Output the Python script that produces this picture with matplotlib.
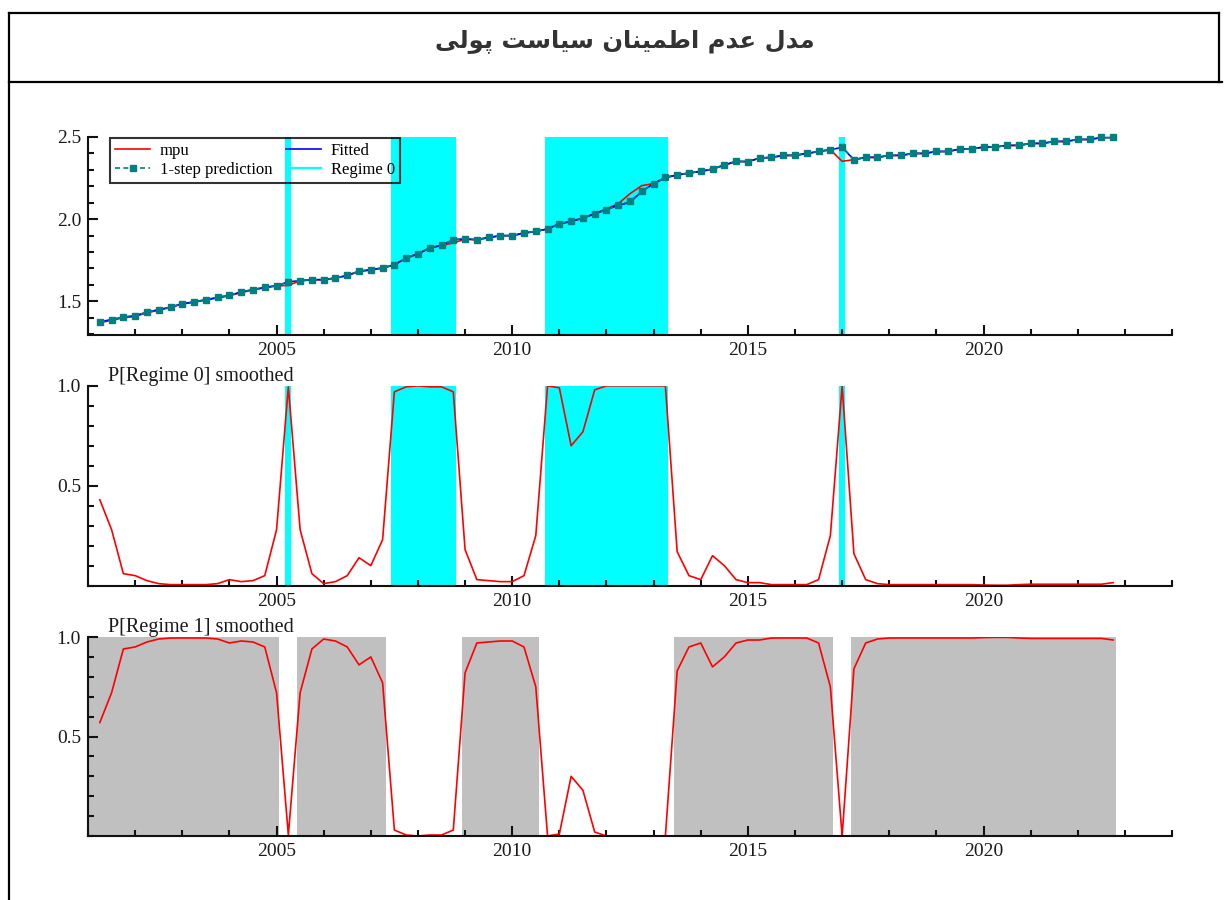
import numpy as np
import pandas as pd
import matplotlib
matplotlib.use('Agg')
import matplotlib.pyplot as plt
from matplotlib.ticker import MultipleLocator, FixedLocator, FormatStrFormatter
from matplotlib.lines import Line2D

# ---------------------------------------------------------------------------
# Data (quarterly, 2001Q2 .. 2022Q4)
# ---------------------------------------------------------------------------
title_fa = 'مدل عدم اطمینان سیاست پولی'

quarters = pd.period_range('2001Q2', '2022Q4', freq='Q')
years = np.asarray(quarters.year + (quarters.quarter - 1) / 4.0, dtype=float)

mpu = [1.370, 1.384, 1.400, 1.408, 1.430, 1.446, 1.462, 1.484, 1.494, 1.508,
       1.520, 1.534, 1.553, 1.569, 1.583, 1.593, 1.597, 1.624, 1.630, 1.631,
       1.640, 1.656, 1.681, 1.690, 1.701, 1.722, 1.762, 1.788, 1.823, 1.840,
       1.855, 1.878, 1.874, 1.887, 1.898, 1.899, 1.914, 1.925, 1.940, 1.970,
       1.985, 2.006, 2.034, 2.062, 2.094, 2.155, 2.204, 2.216, 2.252, 2.268,
       2.280, 2.290, 2.304, 2.328, 2.350, 2.350, 2.371, 2.375, 2.387, 2.388,
       2.399, 2.411, 2.422, 2.352, 2.362, 2.375, 2.376, 2.387, 2.388, 2.399,
       2.400, 2.411, 2.412, 2.426, 2.427, 2.438, 2.439, 2.448, 2.449, 2.460,
       2.461, 2.472, 2.473, 2.484, 2.485, 2.496, 2.497]

fitted = [1.375, 1.389, 1.403, 1.413, 1.433, 1.450, 1.464, 1.486, 1.496, 1.510,
          1.524, 1.536, 1.557, 1.571, 1.585, 1.595, 1.618, 1.626, 1.632, 1.632,
          1.642, 1.658, 1.683, 1.693, 1.703, 1.723, 1.764, 1.790, 1.825, 1.841,
          1.875, 1.880, 1.875, 1.889, 1.900, 1.900, 1.916, 1.926, 1.940, 1.973,
          1.987, 2.007, 2.032, 2.058, 2.084, 2.102, 2.169, 2.216, 2.254, 2.269,
          2.281, 2.291, 2.305, 2.330, 2.352, 2.350, 2.372, 2.376, 2.388, 2.388,
          2.400, 2.412, 2.423, 2.436, 2.362, 2.376, 2.376, 2.388, 2.388, 2.400,
          2.400, 2.412, 2.412, 2.427, 2.427, 2.439, 2.439, 2.449, 2.449, 2.461,
          2.461, 2.473, 2.473, 2.485, 2.485, 2.497, 2.497]

pred_1step = [1.375, 1.389, 1.403, 1.413, 1.433, 1.450, 1.464, 1.486, 1.496, 1.510,
              1.524, 1.536, 1.557, 1.571, 1.585, 1.595, 1.618, 1.626, 1.632, 1.632,
              1.642, 1.658, 1.683, 1.693, 1.703, 1.723, 1.764, 1.790, 1.825, 1.841,
              1.875, 1.880, 1.875, 1.889, 1.900, 1.900, 1.916, 1.926, 1.940, 1.973,
              1.987, 2.007, 2.032, 2.058, 2.084, 2.108, 2.169, 2.216, 2.254, 2.269,
              2.281, 2.291, 2.305, 2.330, 2.352, 2.350, 2.372, 2.376, 2.388, 2.388,
              2.400, 2.412, 2.423, 2.439, 2.362, 2.376, 2.376, 2.388, 2.388, 2.400,
              2.400, 2.412, 2.412, 2.427, 2.427, 2.439, 2.439, 2.449, 2.449, 2.461,
              2.461, 2.473, 2.473, 2.485, 2.485, 2.497, 2.497]

p_regime0 = [0.430, 0.280, 0.060, 0.050, 0.025, 0.010, 0.005, 0.005, 0.005, 0.005,
             0.010, 0.030, 0.020, 0.025, 0.050, 0.280, 0.995, 0.280, 0.060, 0.010,
             0.020, 0.050, 0.140, 0.100, 0.230, 0.970, 0.995, 1.000, 0.995, 0.995,
             0.970, 0.180, 0.030, 0.025, 0.020, 0.020, 0.050, 0.250, 1.000, 0.990,
             0.700, 0.770, 0.980, 1.000, 1.000, 1.000, 1.000, 1.000, 1.000, 0.170,
             0.050, 0.030, 0.150, 0.100, 0.030, 0.015, 0.015, 0.005, 0.005, 0.005,
             0.005, 0.030, 0.250, 1.000, 0.160, 0.030, 0.010, 0.005, 0.005, 0.005,
             0.005, 0.005, 0.005, 0.005, 0.005, 0.003, 0.002, 0.002, 0.005, 0.007,
             0.007, 0.007, 0.007, 0.007, 0.007, 0.007, 0.015]

p_regime1 = [0.570, 0.720, 0.940, 0.950, 0.975, 0.990, 0.995, 0.995, 0.995, 0.995,
             0.990, 0.970, 0.980, 0.975, 0.950, 0.720, 0.005, 0.720, 0.940, 0.990,
             0.980, 0.950, 0.860, 0.900, 0.770, 0.030, 0.005, 0.000, 0.005, 0.005,
             0.030, 0.820, 0.970, 0.975, 0.980, 0.980, 0.950, 0.750, 0.000, 0.010,
             0.300, 0.230, 0.020, 0.000, 0.000, 0.000, 0.000, 0.000, 0.000, 0.830,
             0.950, 0.970, 0.850, 0.900, 0.970, 0.985, 0.985, 0.995, 0.995, 0.995,
             0.995, 0.970, 0.750, 0.000, 0.840, 0.970, 0.990, 0.995, 0.995, 0.995,
             0.995, 0.995, 0.995, 0.995, 0.995, 0.997, 0.998, 0.998, 0.995, 0.993,
             0.993, 0.993, 0.993, 0.993, 0.993, 0.993, 0.985]

# classified regime periods (first and last quarter of each run)
regime0_spans = [(2005.25, 2005.25), (2007.5, 2008.75), (2010.75, 2013.25), (2017.0, 2017.0)]
regime1_spans = [(2001.25, 2005.0), (2005.5, 2007.25), (2009.0, 2010.5),
                 (2013.5, 2016.75), (2017.25, 2022.75)]

# ---------------------------------------------------------------------------
# Persian title: shape letters with presentation forms (no text shaping engine)
# ---------------------------------------------------------------------------
FA_FORMS = {  # isolated, final, initial, medial
    'ا': ('\uFE8D', '\uFE8E', None, None),
    'د': ('\uFEA9', '\uFEAA', None, None),
    'و': ('\uFEED', '\uFEEE', None, None),
    'ل': ('\uFEDD', '\uFEDE', '\uFEDF', '\uFEE0'),
    'م': ('\uFEE1', '\uFEE2', '\uFEE3', '\uFEE4'),
    'ع': ('\uFEC9', '\uFECA', '\uFECB', '\uFECC'),
    'ط': ('\uFEC1', '\uFEC2', '\uFEC3', '\uFEC4'),
    'ن': ('\uFEE5', '\uFEE6', '\uFEE7', '\uFEE8'),
    'س': ('\uFEB1', '\uFEB2', '\uFEB3', '\uFEB4'),
    'ت': ('\uFE95', '\uFE96', '\uFE97', '\uFE98'),
    'پ': ('\uFB56', '\uFB57', '\uFB58', '\uFB59'),
    'ی': ('\uFBFC', '\uFBFD', '\uFBFE', '\uFBFF'),
}


def shape_fa(text):
    words = []
    for word in text.split(' '):
        chars = list(word)
        shaped = []
        for i, ch in enumerate(chars):
            forms = FA_FORMS[ch]
            joins_prev = i > 0 and FA_FORMS[chars[i - 1]][2] is not None
            joins_next = forms[2] is not None and i < len(chars) - 1
            if joins_prev and joins_next:
                shaped.append(forms[3])
            elif joins_prev:
                shaped.append(forms[1])
            elif joins_next:
                shaped.append(forms[2])
            else:
                shaped.append(forms[0])
        words.append(''.join(reversed(shaped)))
    return ' '.join(reversed(words))


# ---------------------------------------------------------------------------
# Figure
# ---------------------------------------------------------------------------
plt.rcParams['font.family'] = ['Liberation Serif', 'DejaVu Serif']

C_MPU = '#FF0000'
C_FIT = '#0000FF'
C_PRED = '#008080'
C_REG0 = '#00FFFF'
C_REG1 = '#C0C0C0'
HALF = 0.0625  # shading half-width around each quarter
X0, X1 = 2001, 2024

fig = plt.figure(figsize=(12.26, 9), dpi=100)

ax1 = fig.add_axes([0.0718, 0.6278, 0.8842, 0.2200])
ax2 = fig.add_axes([0.0718, 0.3493, 0.8842, 0.2220])
ax3 = fig.add_axes([0.0718, 0.0711, 0.8842, 0.2211])


def style_axis(ax):
    ax.set_xlim(X0, X1)
    for s in ('top', 'right'):
        ax.spines[s].set_visible(False)
    for s in ('left', 'bottom'):
        ax.spines[s].set_linewidth(1.5)
        ax.spines[s].set_color('#111111')
    ax.xaxis.set_major_locator(MultipleLocator(5))
    ax.xaxis.set_minor_locator(MultipleLocator(1))
    ax.yaxis.set_minor_locator(MultipleLocator(0.1))
    ax.yaxis.set_major_formatter(FormatStrFormatter('%.1f'))
    ax.tick_params(which='both', direction='in', width=1.5, color='#111111',
                   labelsize=14, labelcolor='#1a1a1a')
    ax.tick_params(which='major', length=7)
    ax.tick_params(which='minor', length=4)
    ax.tick_params(axis='x', pad=5)
    ax.tick_params(axis='y', pad=5)


def shade(ax, spans, color):
    for a, b in spans:
        left = X0 if a == years[0] else a - HALF
        ax.axvspan(left, b + HALF, color=color, lw=0, zorder=0)


# --- panel 1: mpu, fitted, prediction ---
shade(ax1, regime0_spans, C_REG0)
ax1.plot(years, mpu, color=C_MPU, lw=1.2, zorder=2)
ax1.plot(years, fitted, color=C_FIT, lw=1.2, zorder=3)
ax1.plot(years, pred_1step, color=C_PRED, lw=1.2, ls=(0, (3, 2)),
         marker='s', markersize=4.8, zorder=4, clip_on=False)
ax1.set_ylim(1.295, 2.5)
ax1.yaxis.set_major_locator(FixedLocator([1.5, 2.0, 2.5]))
style_axis(ax1)

handles = [
    Line2D([], [], color=C_MPU, lw=1.2),
    Line2D([], [], color=C_PRED, lw=1.2, ls=(0, (3, 2)), marker='s', markersize=4.8),
    Line2D([], [], color=C_FIT, lw=1.2),
    Line2D([], [], color=C_REG0, lw=1.6),
]
labels = ['mpu', '1-step prediction', 'Fitted', 'Regime 0']
leg = ax1.legend(handles, labels, ncol=2, loc='upper left',
                 bbox_to_anchor=(0.0203, 0.995), borderaxespad=0,
                 fontsize=12, frameon=True, fancybox=False,
                 handlelength=2.1, columnspacing=0.8, handletextpad=0.6,
                 labelspacing=0.2, borderpad=0.3)
leg.get_frame().set_edgecolor('black')
leg.get_frame().set_linewidth(1.5)
leg.get_frame().set_facecolor('none')

# --- panel 2: P[Regime 0] ---
shade(ax2, regime0_spans, C_REG0)
ax2.plot(years, p_regime0, color=C_MPU, lw=1.2, zorder=2)
ax2.set_ylim(0, 1)
ax2.yaxis.set_major_locator(FixedLocator([0.5, 1.0]))
style_axis(ax2)
ax2.text(0.0185, 1.0, 'P[Regime 0] smoothed', transform=ax2.transAxes,
         ha='left', va='bottom', fontsize=14.5, color='#1a1a1a')

# --- panel 3: P[Regime 1] ---
shade(ax3, regime1_spans, C_REG1)
ax3.plot(years, p_regime1, color=C_MPU, lw=1.2, zorder=2)
ax3.set_ylim(0, 1)
ax3.yaxis.set_major_locator(FixedLocator([0.5, 1.0]))
style_axis(ax3)
ax3.text(0.0185, 1.0, 'P[Regime 1] smoothed', transform=ax3.transAxes,
         ha='left', va='bottom', fontsize=14.5, color='#1a1a1a')

# --- card frame and title ---
W, H = 1226.0, 900.0
frame_kw = dict(color='black', lw=1.6, transform=fig.transFigure)
fig.add_artist(Line2D([9 / W, 9 / W], [0, 1 - 13 / H], **frame_kw))
fig.add_artist(Line2D([9 / W, 1219 / W], [1 - 13 / H, 1 - 13 / H], **frame_kw))
fig.add_artist(Line2D([1219 / W, 1219 / W], [1 - 13 / H, 1 - 82 / H], **frame_kw))
fig.add_artist(Line2D([9 / W, 1222 / W], [1 - 82 / H, 1 - 82 / H], **frame_kw))

fig.text(625 / W, 1 - 41 / H, shape_fa(title_fa), ha='center', va='center',
         fontsize=17.5, fontweight='bold', color='#333333',
         family=['DejaVu Sans'])

fig.savefig('out.png', dpi=100)
